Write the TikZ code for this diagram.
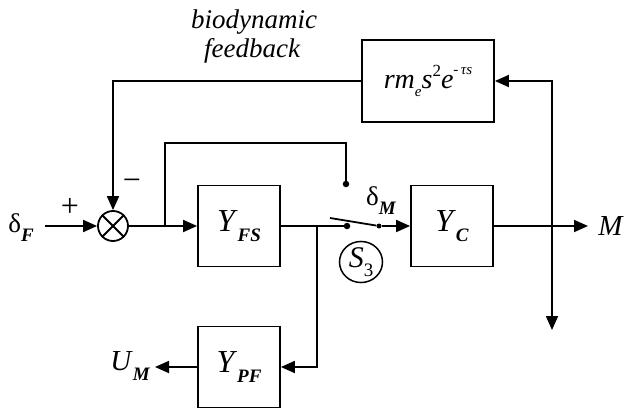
\documentclass[tikz,border=0pt]{standalone}
\usepackage{fontspec}
\setmainfont{Liberation Serif}
\usetikzlibrary{arrows.meta,shapes.geometric}
\newcommand\subt[1]{\raisebox{-0.33em}{\fontsize{19}{19}\selectfont\bfseries\itshape #1}}
\tikzset{
  blk/.style={draw,line width=1.8pt,minimum width=82pt,minimum height=81pt,inner sep=0pt,font=\fontsize{32}{32}\selectfont},
  ln/.style={line width=1.8pt},
  arr/.style={ln,-{Triangle[length=14pt,width=12pt]}},
  barr/.style={ln,{Triangle[length=14pt,width=12pt]}-{Triangle[length=14pt,width=12pt]}},
  dotn/.style={circle,fill,inner sep=0pt,minimum size=6.5pt},
  lbl/.style={font=\fontsize{27}{27}\selectfont,inner sep=0pt},
}
\begin{document}
\begin{tikzpicture}[x=1pt,y=-1pt]
\useasboundingbox (0,0) rectangle (627,412);
% blocks
\node[blk] (yfs) at (239,226) {\textit{Y}\subt{FS}};
\node[blk] (yc) at (452,226) {\textit{Y}\subt{C}};
\node[blk] (ypf) at (239,367) {\textit{Y}\subt{PF}};
\node[blk,minimum width=132pt,minimum height=82pt,font=\fontsize{28}{28}\selectfont] (rm) at (428,81)
  {\textit{rm}\raisebox{-0.3em}{\fontsize{15}{15}\selectfont\textit{e}}\textit{s}\raisebox{0.42em}{\fontsize{17}{17}\selectfont 2}\textit{e}\raisebox{0.5em}{\fontsize{15}{15}\selectfont -\,\textit{τs}}};
\node[circle,draw,line width=1.8pt,minimum size=30pt,inner sep=0pt] (sum) at (113,226) {};
\draw[ln] (sum.north west) -- (sum.south east) (sum.north east) -- (sum.south west);
% switch
\node[dotn] (dtop) at (346,184) {};
\node[dotn] (dlow) at (347,226) {};
\node[dotn,minimum size=5pt] (piv) at (379,226) {};
\coordinate (blade) at (330,218);
\node[ellipse,draw,line width=1.5pt,minimum width=43pt,minimum height=37pt,inner sep=0pt,font=\fontsize{30}{30}\selectfont] (s3) at (361,262) {\textit{S}\raisebox{-0.3em}{\fontsize{19}{19}\selectfont 3}};
% coordinates
\coordinate (in) at (45,226);
\coordinate (br1) at (165,226);
\coordinate (tp) at (346,143);
\coordinate (br2) at (317,226);
\coordinate (out) at (588,226);
\coordinate (um) at (155,367);
\coordinate (vb) at (552,330);
% connectors
\draw[arr] (in) -- (sum.west);
\draw[arr] (sum.east) -- (yfs.west);
\draw[ln] (br1) -- (br1 |- tp) -- (tp) -- (dtop);
\draw[ln] (yfs.east) -- (dlow);
\draw[arr] (br2) |- (ypf.east);
\draw[arr] (ypf.west) -- (um);
\draw[ln] (blade) -- (piv);
\draw[arr] (piv) -- (yc.west);
\draw[arr] (yc.east) -- (out);
\draw[arr] (rm.west) -| (sum.north);
\draw[barr] (rm.east) -| (vb);
% labels
\node[lbl] (lf) at (21,228) {δ\subt{F}};
\node[lbl,font=\fontsize{32}{32}\selectfont] (lp) at (70,207) {+};
\node[lbl,font=\fontsize{32}{32}\selectfont] (lm) at (132,185) {−};
\node[lbl] (ldm) at (381,201) {δ\subt{M}};
\node[lbl,font=\fontsize{29}{29}\selectfont] (lM) at (611,226) {\textit{M}};
\node[lbl,font=\fontsize{29}{29}\selectfont] (lU) at (130,366) {\textit{U}\subt{M}};
\node[lbl,font=\fontsize{27}{27}\selectfont\itshape] (bio1) at (254,22) {biodynamic};
\node[lbl,font=\fontsize{27}{27}\selectfont\itshape] (bio2) at (252,51) {feedback};
\end{tikzpicture}
\end{document}
